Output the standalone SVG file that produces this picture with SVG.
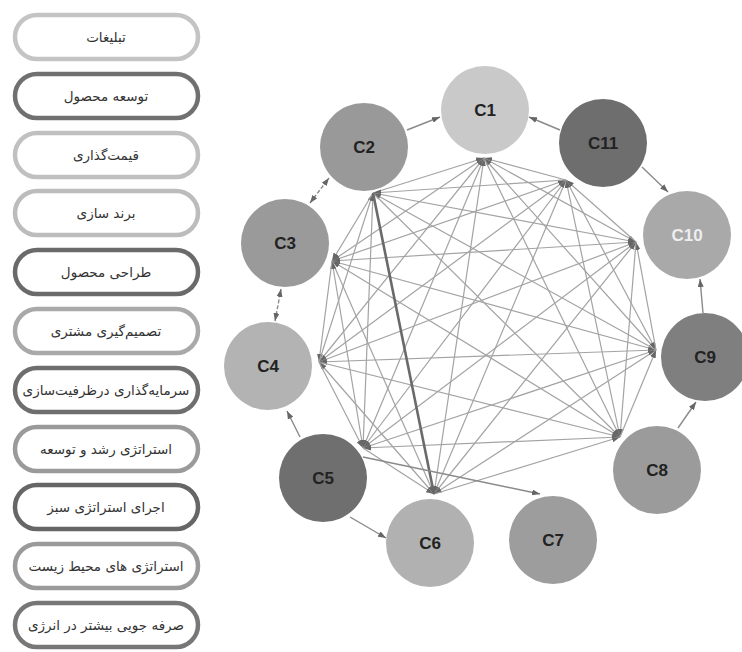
<svg xmlns="http://www.w3.org/2000/svg" width="742" height="652" viewBox="0 0 742 652">
<style>
.pill{fill:#fff;stroke-width:4.5}
.lt{font-family:"DejaVu Sans",sans-serif;font-size:13.5px;fill:#333;text-anchor:middle;dominant-baseline:central}
.nl{font-family:"Liberation Sans",Arial,sans-serif;font-weight:bold;font-size:17px;fill:#222;text-anchor:middle;dominant-baseline:central}
.e line{stroke:#a3a3a3;stroke-width:1.2;marker-end:url(#ah)}
.p{stroke:#8a8a8a;stroke-width:1.4;marker-end:url(#ah)}
</style>
<defs>
<marker id="ah" markerUnits="userSpaceOnUse" markerWidth="8" markerHeight="6" refX="8" refY="3" orient="auto"><path d="M0,0 L8,3 L0,6 z" fill="#666"/></marker>
<marker id="as" markerUnits="userSpaceOnUse" markerWidth="8" markerHeight="6" refX="0" refY="3" orient="auto"><path d="M8,0 L0,3 L8,6 z" fill="#666"/></marker>
</defs>
<rect width="742" height="652" fill="#fff"/>
<g id="legend">
<g id="L1"><rect class="pill" x="15" y="15" width="183" height="44" rx="22" stroke="#c4c4c4"/><text class="lt" x="106" y="37">تبلیغات</text></g>
<g id="L2"><rect class="pill" x="15" y="74" width="183" height="44" rx="22" stroke="#707070"/><text class="lt" x="106" y="96">توسعه محصول</text></g>
<g id="L3"><rect class="pill" x="15" y="133" width="183" height="44" rx="22" stroke="#c0c0c0"/><text class="lt" x="106" y="155">قیمت‌گذاری</text></g>
<g id="L4"><rect class="pill" x="15" y="191" width="183" height="44" rx="22" stroke="#bcbcbc"/><text class="lt" x="106" y="213">برند سازی</text></g>
<g id="L5"><rect class="pill" x="15" y="250" width="183" height="44" rx="22" stroke="#6a6a6a"/><text class="lt" x="106" y="272">طراحی محصول</text></g>
<g id="L6"><rect class="pill" x="15" y="309" width="183" height="44" rx="22" stroke="#a9a9a9"/><text class="lt" x="106" y="331">تصمیم‌گیری مشتری</text></g>
<g id="L7"><rect class="pill" x="15" y="368" width="183" height="44" rx="22" stroke="#6e6e6e"/><text class="lt" x="106" y="390">سرمایه‌گذاری درظرفیت‌سازی</text></g>
<g id="L8"><rect class="pill" x="15" y="427" width="183" height="44" rx="22" stroke="#9a9a9a"/><text class="lt" x="106" y="449">استراتژی رشد و توسعه</text></g>
<g id="L9"><rect class="pill" x="15" y="485" width="183" height="44" rx="22" stroke="#666"/><text class="lt" x="106" y="507">اجرای استراتژی سبز</text></g>
<g id="L10"><rect class="pill" x="15" y="544" width="183" height="44" rx="22" stroke="#9a9a9a"/><text class="lt" x="106" y="566">استراتژی های محیط زیست</text></g>
<g id="L11"><rect class="pill" x="15" y="603" width="183" height="44" rx="22" stroke="#777"/><text class="lt" x="106" y="625">صرفه جویی بیشتر در انرژی</text></g>
</g>
<g id="connectors">
<g class="e">
<line x1="566" y1="180" x2="484" y2="158"/>
<line x1="484" y1="158" x2="636" y2="242"/>
<line x1="656" y1="350" x2="484" y2="158"/>
<line x1="484" y1="158" x2="620" y2="437"/>
<line x1="434" y1="494" x2="484" y2="158"/>
<line x1="484" y1="158" x2="363" y2="448"/>
<line x1="319" y1="362" x2="484" y2="158"/>
<line x1="484" y1="158" x2="332" y2="261"/>
<line x1="373" y1="193" x2="484" y2="158"/>
<line x1="636" y1="242" x2="566" y2="180"/>
<line x1="566" y1="180" x2="656" y2="350"/>
<line x1="620" y1="437" x2="566" y2="180"/>
<line x1="566" y1="180" x2="434" y2="494"/>
<line x1="363" y1="448" x2="566" y2="180"/>
<line x1="566" y1="180" x2="319" y2="362"/>
<line x1="332" y1="261" x2="566" y2="180"/>
<line x1="566" y1="180" x2="373" y2="193"/>
<line x1="656" y1="350" x2="636" y2="242"/>
<line x1="636" y1="242" x2="620" y2="437"/>
<line x1="434" y1="494" x2="636" y2="242"/>
<line x1="636" y1="242" x2="363" y2="448"/>
<line x1="319" y1="362" x2="636" y2="242"/>
<line x1="636" y1="242" x2="332" y2="261"/>
<line x1="373" y1="193" x2="636" y2="242"/>
<line x1="620" y1="437" x2="656" y2="350"/>
<line x1="656" y1="350" x2="434" y2="494"/>
<line x1="363" y1="448" x2="656" y2="350"/>
<line x1="656" y1="350" x2="319" y2="362"/>
<line x1="332" y1="261" x2="656" y2="350"/>
<line x1="656" y1="350" x2="373" y2="193"/>
<line x1="434" y1="494" x2="620" y2="437"/>
<line x1="620" y1="437" x2="363" y2="448"/>
<line x1="319" y1="362" x2="620" y2="437"/>
<line x1="620" y1="437" x2="332" y2="261"/>
<line x1="373" y1="193" x2="620" y2="437"/>
<line x1="363" y1="448" x2="434" y2="494"/>
<line x1="434" y1="494" x2="319" y2="362"/>
<line x1="332" y1="261" x2="434" y2="494"/>
<line x1="319" y1="362" x2="363" y2="448"/>
<line x1="363" y1="448" x2="332" y2="261"/>
<line x1="373" y1="193" x2="363" y2="448"/>
<line x1="332" y1="261" x2="319" y2="362"/>
<line x1="319" y1="362" x2="373" y2="193"/>
<line x1="373" y1="193" x2="332" y2="261"/>
</g>
<line x1="373" y1="193" x2="434" y2="494" stroke="#6a6a6a" stroke-width="2.6" marker-end="url(#ah)"/>
<line class="p" x1="363" y1="457" x2="540" y2="494"/>
<line class="p" x1="407" y1="130" x2="440" y2="117"/>
<line class="p" x1="560" y1="130" x2="529" y2="117"/>
<line class="p" x1="642" y1="167" x2="668" y2="192"/>
<line class="p" x1="703" y1="313" x2="700" y2="279"/>
<line class="p" x1="678" y1="428" x2="696" y2="402"/>
<line class="p" x1="350" y1="517" x2="386" y2="538"/>
<line class="p" x1="300" y1="437" x2="287" y2="411"/>
<line class="p" x1="275" y1="321" x2="281" y2="289" marker-start="url(#as)" stroke-dasharray="4 2"/>
<line class="p" x1="310" y1="203" x2="329" y2="178" marker-start="url(#as)" stroke-dasharray="4 2"/>
</g>
<g id="C1"><circle cx="485" cy="110" r="44" fill="#c9c9c9"/><text class="nl" x="485" y="110">C1</text></g>
<g id="C2"><circle cx="364" cy="147" r="44" fill="#999"/><text class="nl" x="364" y="147">C2</text></g>
<g id="C3"><circle cx="285" cy="243" r="44" fill="#9a9a9a"/><text class="nl" x="285" y="243">C3</text></g>
<g id="C4"><circle cx="268" cy="366" r="44" fill="#b3b3b3"/><text class="nl" x="268" y="366">C4</text></g>
<g id="C5"><circle cx="323" cy="478" r="44" fill="#6f6f6f"/><text class="nl" x="323" y="478">C5</text></g>
<g id="C6"><circle cx="430" cy="543" r="44" fill="#b1b1b1"/><text class="nl" x="430" y="543">C6</text></g>
<g id="C7"><circle cx="553" cy="540" r="44" fill="#9d9d9d"/><text class="nl" x="553" y="540">C7</text></g>
<g id="C8"><circle cx="657" cy="470" r="44" fill="#9b9b9b"/><text class="nl" x="657" y="470">C8</text></g>
<g id="C9"><circle cx="705" cy="357" r="44" fill="#7f7f7f"/><text class="nl" x="705" y="357">C9</text></g>
<g id="C10"><circle cx="687" cy="235" r="44" fill="#a9a9a9"/><text class="nl" x="687" y="235" style="fill:#eee">C10</text></g>
<g id="C11"><circle cx="603" cy="143" r="44" fill="#6e6e6e"/><text class="nl" x="603" y="143">C11</text></g>
</svg>
